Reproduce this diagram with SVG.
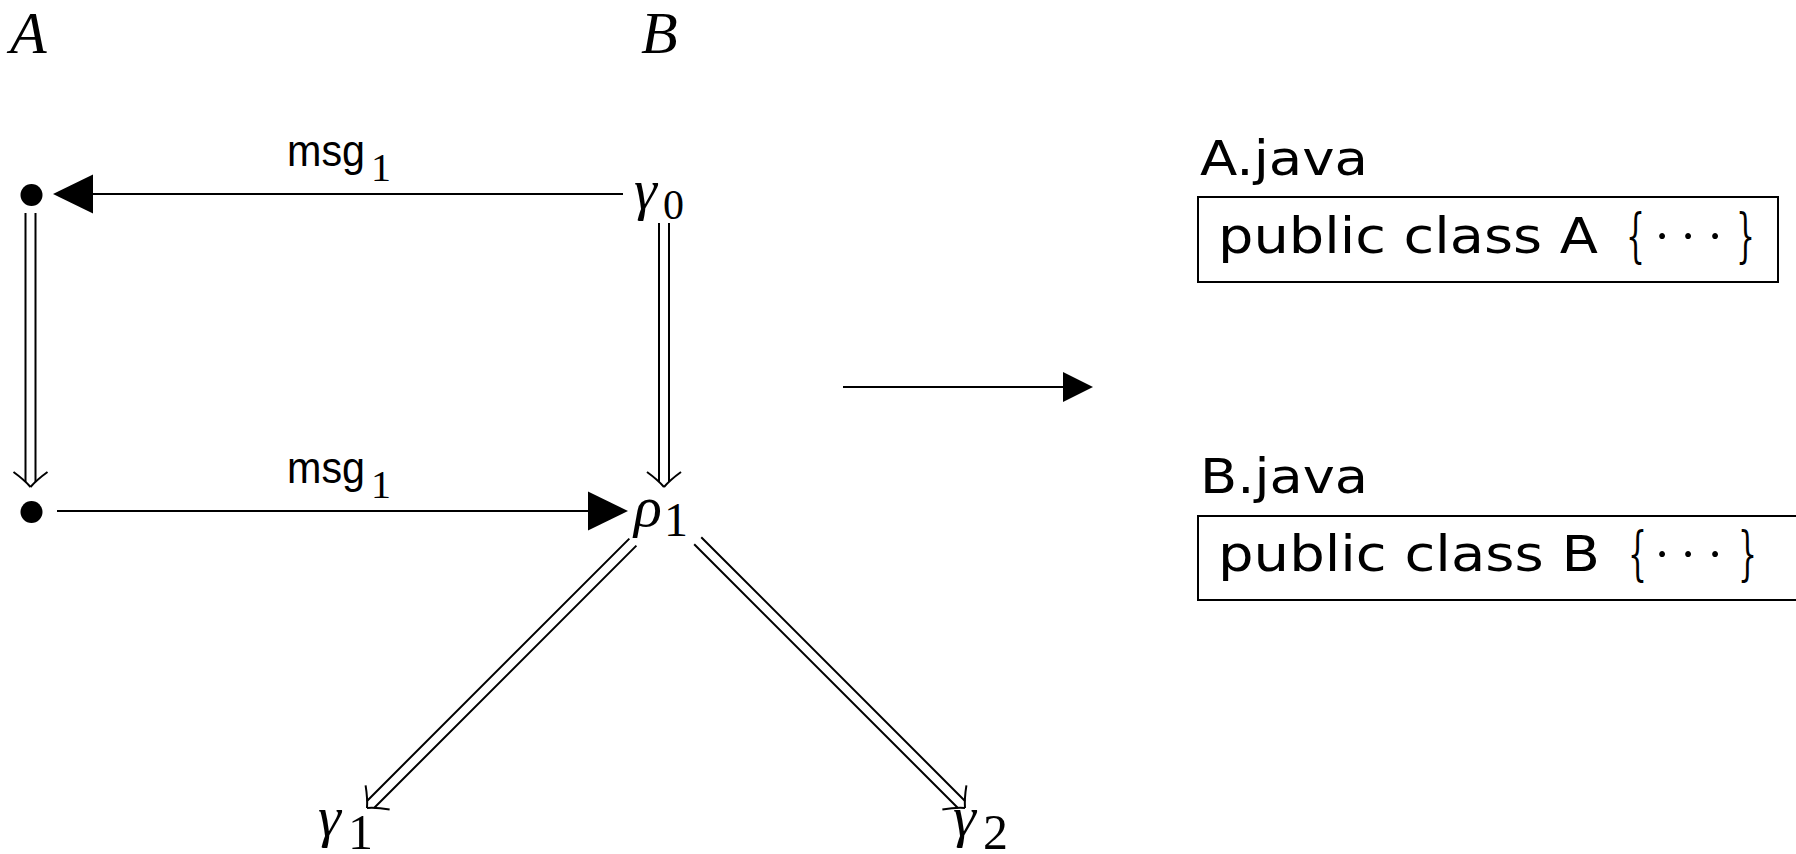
<svg xmlns="http://www.w3.org/2000/svg" width="1796" height="854" viewBox="0 0 1796 854">
<style>
.mi{font-family:"Liberation Serif","DejaVu Serif",serif;font-style:italic;fill:#000}
.rm{font-family:"Liberation Serif","DejaVu Serif",serif;fill:#000}
.br{font-family:"DejaVu Serif","Liberation Serif",serif;fill:#000}
.ss{font-family:"Liberation Sans",Arial,sans-serif;fill:#000}
.dj{font-family:"DejaVu Sans","Liberation Sans",sans-serif;fill:#000}
.ln{stroke:#000;stroke-width:2.2;fill:none}
.dbl{stroke:#000;stroke-width:2;fill:none}
.box{stroke:#000;stroke-width:2;fill:none}
</style>
<defs>
<marker id="tri" markerUnits="userSpaceOnUse" markerWidth="40" markerHeight="40" viewBox="0 0 35 34" refX="0" refY="17" orient="auto">
<path d="M0,0 L35,17 L0,34 z" fill="#000"/>
</marker>
<marker id="tri2" markerUnits="userSpaceOnUse" markerWidth="30" markerHeight="30" viewBox="0 0 29 29" refX="0" refY="14.5" orient="auto">
<path d="M0,0 L29,14.5 L0,29 z" fill="#000"/>
</marker>
<g id="dhead"><path class="dbl" d="M-17,-15 Q-6,-7 0,0 M17,-15 Q6,-7 0,0"/></g>
</defs>

<g id="label-A"><text class="mi" x="10" y="53" font-size="60">A</text></g>
<g id="label-B"><text class="mi" x="641" y="53" font-size="60">B</text></g>

<g id="node-a1"><circle cx="31.5" cy="195" r="11" fill="#000"/></g>
<g id="node-a2"><circle cx="31.5" cy="512" r="11" fill="#000"/></g>
<g id="node-gamma0"><text class="mi" x="634" y="209" font-size="58">γ</text><text class="rm" x="663" y="219" font-size="42">0</text></g>
<g id="node-rho1"><text class="mi" x="634" y="526" font-size="58">ρ</text><text class="rm" x="664" y="536" font-size="48">1</text></g>
<g id="node-gamma1"><text class="mi" x="318" y="836" font-size="58">γ</text><text class="rm" x="348" y="849" font-size="50">1</text></g>
<g id="node-gamma2"><text class="mi" x="953" y="836" font-size="58">γ</text><text class="rm" x="983" y="849" font-size="50">2</text></g>

<g id="connectors">
<line class="ln" x1="623" y1="194" x2="93" y2="194" marker-end="url(#tri)"/>
<line class="ln" x1="57" y1="511" x2="588" y2="511" marker-end="url(#tri)"/>
<line class="ln" x1="843" y1="387" x2="1063" y2="387" stroke-width="2.6" marker-end="url(#tri2)"/>
<g transform="translate(30.5,487)">
<path class="dbl" d="M-5,-274 V-5 M5,-274 V-5"/><use href="#dhead"/>
</g>
<g transform="translate(664,487)">
<path class="dbl" d="M-5,-264 V-5 M5,-264 V-5"/><use href="#dhead"/>
</g>
<g transform="translate(367,808) rotate(45)">
<path class="dbl" d="M-5,-376 V-5 M5,-376 V-5"/><use href="#dhead"/>
</g>
<g transform="translate(965,808) rotate(-45)">
<path class="dbl" d="M-5,-378 V-5 M5,-378 V-5"/><use href="#dhead"/>
</g>
</g>

<g id="label-msg-top"><text class="ss" x="287" y="166" font-size="44" textLength="78" lengthAdjust="spacingAndGlyphs">msg</text><text class="rm" x="371" y="181" font-size="40">1</text></g>
<g id="label-msg-bottom"><text class="ss" x="287" y="483" font-size="44" textLength="78" lengthAdjust="spacingAndGlyphs">msg</text><text class="rm" x="371" y="498" font-size="40">1</text></g>

<g id="file-A">
<text class="dj" x="1200" y="175" font-size="48" textLength="168" lengthAdjust="spacingAndGlyphs">A.java</text>
<rect class="box" x="1198" y="197" width="580" height="85"/>
<text class="dj" x="1218" y="253" font-size="50" textLength="380" lengthAdjust="spacingAndGlyphs">public class A</text>
<text class="br" x="1626" y="256" font-size="58" textLength="19" lengthAdjust="spacingAndGlyphs">{</text>
<text class="rm" x="1662 1688 1715" y="253" font-size="50" text-anchor="middle">···</text>
<text class="br" x="1736" y="256" font-size="58" textLength="19" lengthAdjust="spacingAndGlyphs">}</text>
</g>

<g id="file-B">
<text class="dj" x="1200" y="493" font-size="48" textLength="168" lengthAdjust="spacingAndGlyphs">B.java</text>
<rect class="box" x="1198" y="516" width="640" height="84"/>
<text class="dj" x="1218" y="571" font-size="50" textLength="382" lengthAdjust="spacingAndGlyphs">public class B</text>
<text class="br" x="1628" y="574" font-size="58" textLength="19" lengthAdjust="spacingAndGlyphs">{</text>
<text class="rm" x="1662 1688 1715" y="571" font-size="50" text-anchor="middle">···</text>
<text class="br" x="1738" y="574" font-size="58" textLength="19" lengthAdjust="spacingAndGlyphs">}</text>
</g>
</svg>
